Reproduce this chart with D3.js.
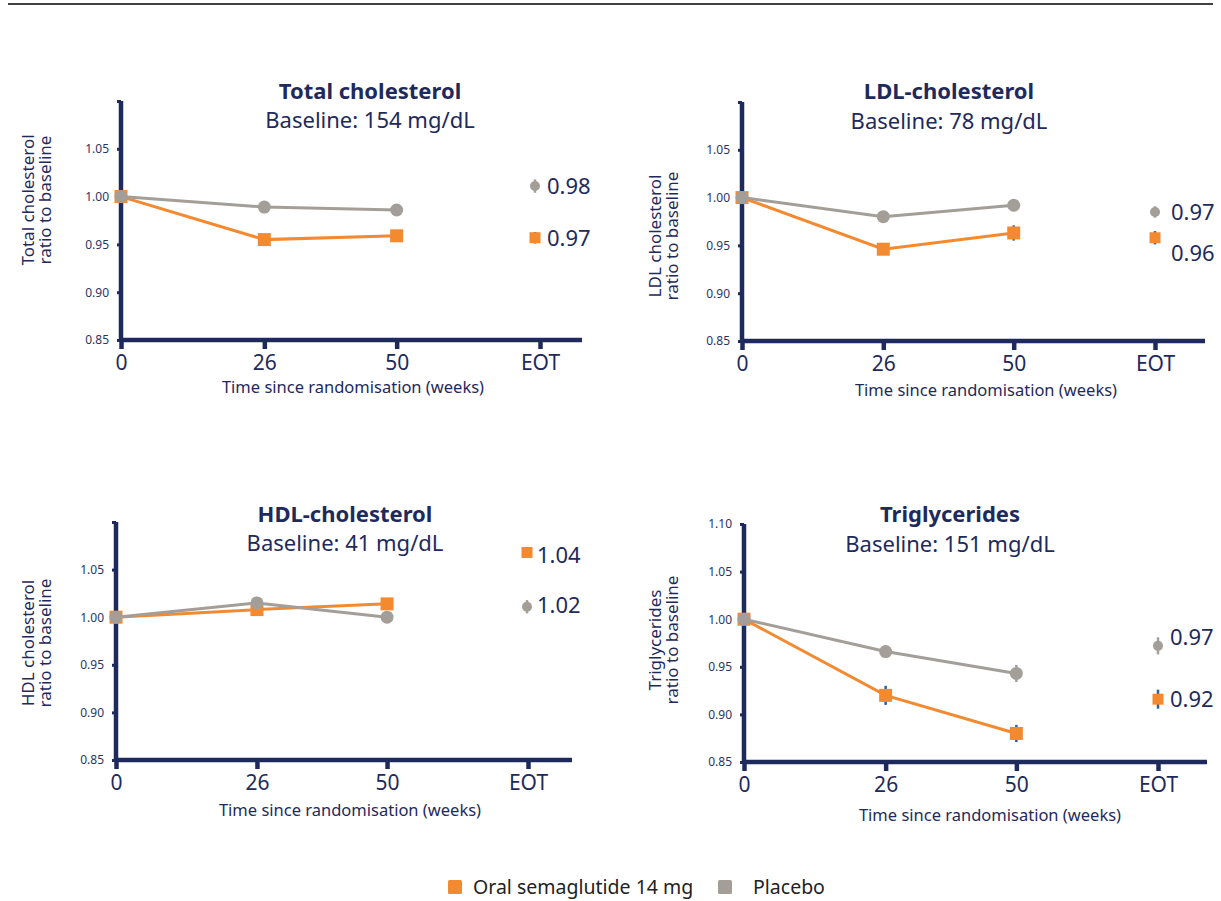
<!DOCTYPE html>
<meta charset="utf-8">
<style>
body { margin: 0; background: #fff; }
svg { display: block; font-family: "Noto Sans", "Open Sans", sans-serif; }
.axis line, .axis path { stroke: #1e2a5c; }
.tick text { fill: #2a3563; }
.title { font-weight: bold; fill: #1e2a5c; }
.navy { fill: #1e2a5c; }
</style>
<svg width="1221" height="901"></svg>
<script src="https://d3js.org/d3.v7.min.js"></script>
<script>

const navy = "#1e2a5c",
      orange = "#f48a30",
      grey = "#a39e98",
      errBlue = "#2c5ea8";

// x positions: weeks, EOT is drawn as its own slot after week 50
const weeks = [0, 26, 50];
const eotSlot = 76;
const xTicks = [0, 26, 50, eotSlot];
const yTicks = [0.85, 0.90, 0.95, 1.00, 1.05, 1.10];

// Total cholesterol
const totalOral = [1.000, 0.955, 0.959];
const totalOralErr = [0, 0.002, 0.004];
const totalPlacebo = [1.000, 0.989, 0.986];
const totalPlaceboErr = [0, 0.002, 0.004];
const totalEot = [0.957, 1.011];          // oral, placebo
const totalEotErr = [0.006, 0.007];
const totalEotLabels = ["0.97", "0.98"];

// LDL-cholesterol
const ldlOral = [1.000, 0.946, 0.963];
const ldlOralErr = [0, 0.006, 0.008];
const ldlPlacebo = [1.000, 0.980, 0.992];
const ldlPlaceboErr = [0, 0.004, 0.006];
const ldlEot = [0.958, 0.985];
const ldlEotErr = [0.007, 0.006];
const ldlEotLabels = ["0.96", "0.97"];

// HDL-cholesterol
const hdlOral = [1.000, 1.008, 1.014];
const hdlOralErr = [0, 0.002, 0.002];
const hdlPlacebo = [1.000, 1.015, 1.000];
const hdlPlaceboErr = [0, 0.003, 0.002];
const hdlEot = [1.068, 1.011];
const hdlEotErr = [0.003, 0.007];
const hdlEotLabels = ["1.04", "1.02"];

// Triglycerides
const trigOral = [1.000, 0.920, 0.880];
const trigOralErr = [0, 0.010, 0.009];
const trigPlacebo = [1.000, 0.966, 0.943];
const trigPlaceboErr = [0, 0.006, 0.009];
const trigEot = [0.916, 0.972];
const trigEotErr = [0.010, 0.009];
const trigEotLabels = ["0.92", "0.97"];

const seriesNames = ["Oral semaglutide 14 mg", "Placebo"];

const panels = [
  { title: "Total cholesterol", baseline: "Baseline: 154 mg/dL", ytitle: ["Total cholesterol", "ratio to baseline"],
    oral: totalOral, oralErr: totalOralErr, placebo: totalPlacebo, placeboErr: totalPlaceboErr,
    eot: totalEot, eotErr: totalEotErr, eotLabels: totalEotLabels, labelDy: [0, 0], labelDx: 7, markDx: -5,
    x0: 121, xe: 540, xEnd: 582, yT: 101, yB: 340, titleX: 370, titleY: 99, baseY: 128,
    tickY: 370, xTitleX: 353, xTitleY: 393, yTitleX: 28, yTitleY: 200, showTop: false },
  { title: "LDL-cholesterol", baseline: "Baseline: 78 mg/dL", ytitle: ["LDL cholesterol", "ratio to baseline"],
    oral: ldlOral, oralErr: ldlOralErr, placebo: ldlPlacebo, placeboErr: ldlPlaceboErr,
    eot: ldlEot, eotErr: ldlEotErr, eotLabels: ldlEotLabels, labelDy: [15, 0], labelDx: 16, markDx: 0,
    x0: 742, xe: 1155, xEnd: 1205, yT: 102, yB: 341, titleX: 949, titleY: 99, baseY: 129,
    tickY: 371, xTitleX: 986, xTitleY: 396, yTitleX: 655, yTitleY: 236, showTop: false },
  { title: "HDL-cholesterol", baseline: "Baseline: 41 mg/dL", ytitle: ["HDL cholesterol", "ratio to baseline"],
    oral: hdlOral, oralErr: hdlOralErr, placebo: hdlPlacebo, placeboErr: hdlPlaceboErr,
    eot: hdlEot, eotErr: hdlEotErr, eotLabels: hdlEotLabels, labelDy: [3, -2], labelDx: 9, markDx: -1,
    x0: 116, xe: 528, xEnd: 572, yT: 522, yB: 760, titleX: 345, titleY: 522, baseY: 551,
    tickY: 790, xTitleX: 350, xTitleY: 816, yTitleX: 28, yTitleY: 643, showTop: false },
  { title: "Triglycerides", baseline: "Baseline: 151 mg/dL", ytitle: ["Triglycerides", "ratio to baseline"],
    oral: trigOral, oralErr: trigOralErr, placebo: trigPlacebo, placeboErr: trigPlaceboErr,
    eot: trigEot, eotErr: trigEotErr, eotLabels: trigEotLabels, labelDy: [0, -9], labelDx: 12, markDx: 0,
    x0: 744, xe: 1158, xEnd: 1207, yT: 524, yB: 762, titleX: 950, titleY: 522, baseY: 552,
    tickY: 792, xTitleX: 990, xTitleY: 821, yTitleX: 655, yTitleY: 640, showTop: true }
];

const svg = d3.select("svg");

// rule across the top of the page
svg.append("line")
  .attr("x1", 8).attr("x2", 1213).attr("y1", 4).attr("y2", 4)
  .attr("stroke", "#000").attr("stroke-width", 1.5);

panels.forEach(drawPanel);

function drawPanel(p) {
  const g = svg.append("g");
  const x = d3.scaleLinear().domain([0, eotSlot]).range([p.x0, p.xe]);
  const y = d3.scaleLinear().domain([0.85, 1.10]).range([p.yB, p.yT]);

  // y axis
  const yAxis = g.append("g").attr("class", "axis")
    .attr("transform", "translate(" + p.x0 + ",0)")
    .call(d3.axisLeft(y).tickValues(yTicks).tickFormat(d3.format(".2f"))
      .tickSize(4).tickPadding(8).tickSizeOuter(0))
    .attr("font-family", null).attr("font-size", null);
  yAxis.select(".domain").remove();
  yAxis.selectAll(".tick line").attr("stroke-width", 3);
  yAxis.selectAll(".tick text").style("font-size", "12px")
    .style("opacity", function(d) { return (d > 1.07 && !p.showTop) ? 0 : 1; });

  // x axis
  const xAxis = g.append("g").attr("class", "axis")
    .attr("transform", "translate(0," + p.yB + ")")
    .call(d3.axisBottom(x).tickValues(xTicks)
      .tickFormat(function(d) { return d === eotSlot ? "EOT" : d; })
      .tickSize(9).tickSizeOuter(0))
    .attr("font-family", null).attr("font-size", null);
  xAxis.select(".domain").remove();
  xAxis.selectAll(".tick line").attr("stroke-width", 4.5);
  xAxis.selectAll(".tick text")
    .attr("y", p.tickY - p.yB).attr("dy", null)
    .style("font-size", "21px").style("fill", navy);

  // axis lines
  g.append("line").attr("x1", p.x0).attr("x2", p.xEnd).attr("y1", p.yB).attr("y2", p.yB)
    .attr("stroke", navy).attr("stroke-width", 4.5);
  g.append("line").attr("x1", p.x0).attr("x2", p.x0).attr("y1", p.yT).attr("y2", p.yB + 2)
    .attr("stroke", navy).attr("stroke-width", 4.5);

  // titles
  g.append("text").attr("class", "title")
    .attr("x", p.titleX).attr("y", p.titleY).attr("text-anchor", "middle")
    .style("font-size", "22px").text(p.title);
  g.append("text").attr("class", "navy")
    .attr("x", p.titleX).attr("y", p.baseY).attr("text-anchor", "middle")
    .style("font-size", "22px").text(p.baseline);
  g.append("text").attr("class", "navy")
    .attr("x", p.xTitleX).attr("y", p.xTitleY).attr("text-anchor", "middle")
    .style("font-size", "16.5px").text("Time since randomisation (weeks)");
  const yt = g.append("text").attr("class", "navy")
    .attr("transform", "translate(" + (p.yTitleX + 6) + "," + p.yTitleY + ") rotate(-90)")
    .attr("text-anchor", "middle").style("font-size", "17px");
  p.ytitle.forEach(function(t, i) {
    yt.append("tspan").attr("x", 0).attr("y", i * 17).text(t);
  });

  // series: oral first, placebo on top
  const series = [
    { vals: p.oral, err: p.oralErr, color: orange, errColor: errBlue, shape: "square" },
    { vals: p.placebo, err: p.placeboErr, color: grey, errColor: grey, shape: "circle" }
  ];

  series.forEach(function(s, si) {
    const pts = weeks.map(function(w, i) { return { x: w, y: s.vals[i], e: s.err[i], dx: 0 }; });
    const eotPt = { x: eotSlot, y: p.eot[si], e: p.eotErr[si], dx: p.markDx };
    const all = pts.concat([eotPt]);

    g.append("path").datum(pts)
      .attr("fill", "none").attr("stroke", s.color).attr("stroke-width", 3)
      .attr("d", d3.line().x(function(d) { return x(d.x); }).y(function(d) { return y(d.y); }));

    g.selectAll(null).data(all.filter(function(d) { return d.e > 0; })).enter().append("line")
      .attr("x1", function(d) { return x(d.x) + d.dx; }).attr("x2", function(d) { return x(d.x) + d.dx; })
      .attr("y1", function(d) { return y(d.y + d.e); }).attr("y2", function(d) { return y(d.y - d.e); })
      .attr("stroke", s.errColor).attr("stroke-width", 2.5);

    all.forEach(function(d, i) {
      const big = i < pts.length;
      if (s.shape === "square") {
        const sz = big ? 13 : 11;
        g.append("rect").attr("x", x(d.x) + d.dx - sz / 2).attr("y", y(d.y) - sz / 2)
          .attr("width", sz).attr("height", sz).attr("fill", s.color);
      } else {
        g.append("circle").attr("cx", x(d.x) + d.dx).attr("cy", y(d.y))
          .attr("r", big ? 6.5 : 5).attr("fill", s.color);
      }
    });

    g.append("text").attr("class", "navy")
      .attr("x", x(eotSlot) + p.labelDx).attr("y", y(eotPt.y) + p.labelDy[si]).attr("dy", "0.36em")
      .style("font-size", "22px").text(p.eotLabels[si]);
  });
}

// legend
const legend = svg.append("g").attr("transform", "translate(0,887)");
const legendX = [448, 718];
const legendTextX = [473, 753];
[orange, grey].forEach(function(c, i) {
  legend.append("rect").attr("x", legendX[i]).attr("y", -7).attr("width", 14).attr("height", 14)
    .attr("rx", 1.5).attr("fill", c);
  legend.append("text").attr("x", legendTextX[i]).attr("y", 0).attr("dy", "0.36em")
    .style("font-size", "19.5px").attr("fill", "#222").text(seriesNames[i]);
});
</script>
